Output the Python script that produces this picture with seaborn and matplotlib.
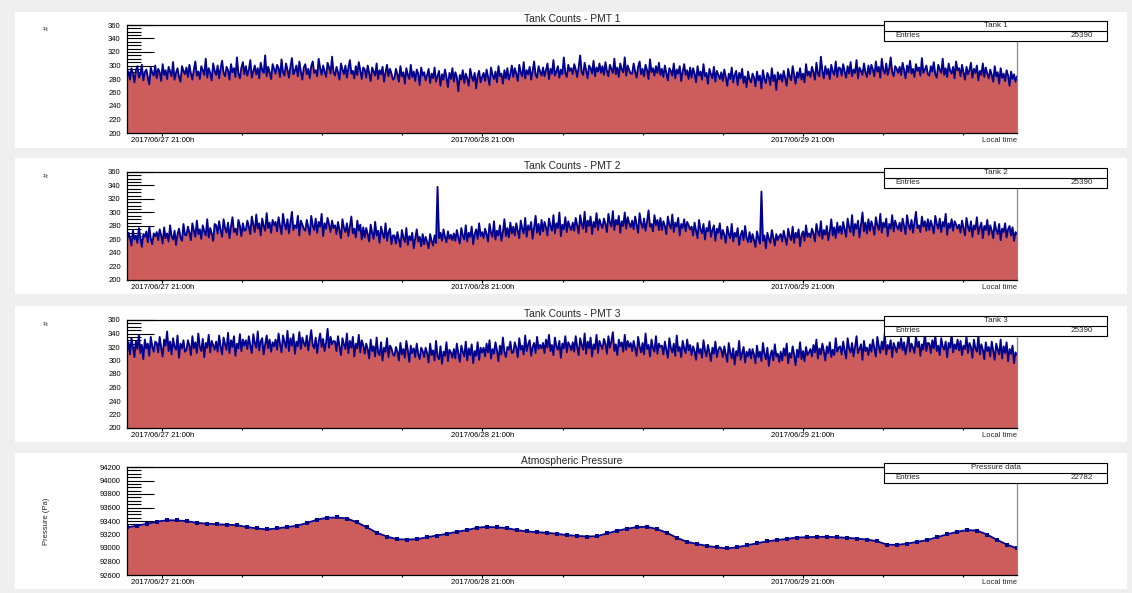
import pandas as pd
import matplotlib
matplotlib.use("Agg")
import matplotlib.pyplot as plt
import matplotlib.dates as mdates
from matplotlib.ticker import MultipleLocator, FixedLocator
from matplotlib.patches import Rectangle
from matplotlib.lines import Line2D
import seaborn as sns

# ---- data -------------------------------------------------------------
time_start = "2017-06-27 18:22"
time_end = "2017-06-30 13:03"

pmt1_counts = [
    284, 291, 279, 296, 288, 275, 293, 299, 282, 287, 301, 278, 290, 294, 283, 272, 297, 289, 285, 300,
    281, 295, 290, 277, 302, 286, 293, 280, 298, 291, 284, 305, 279, 289, 296, 283, 276, 299, 292, 287,
    297, 283, 301, 288, 279, 294, 306, 285, 291, 280, 299, 293, 286, 310, 282, 296, 289, 278, 303, 292,
    286, 300, 281, 295, 307, 289, 284, 298, 293, 279, 302, 290, 296, 283, 312, 288, 281, 297, 305, 287,
    299, 285, 294, 308, 282, 291, 300, 287, 296, 281, 304, 293, 289, 315, 284, 298, 290, 280, 302, 295,
    288, 301, 296, 283, 309, 290, 285, 303, 294, 282, 298, 311, 287, 292, 300, 284, 306, 291, 279, 297,
    302, 287, 295, 281, 299, 306, 289, 293, 284, 310, 296, 286, 300, 291, 283, 304, 297, 288, 313, 290,
    285, 298, 290, 279, 303, 294, 287, 300, 282, 296, 308, 288, 292, 281, 299, 286, 305, 293, 280, 297,
    294, 282, 300, 289, 277, 297, 291, 285, 303, 280, 293, 287, 298, 276, 290, 301, 284, 295, 288, 279,
    281, 295, 287, 276, 299, 284, 290, 273, 296, 286, 280, 301, 283, 291, 277, 294, 288, 271, 297, 285,
    290, 278, 286, 295, 274, 288, 281, 297, 276, 284, 292, 270, 287, 279, 294, 283, 268, 289, 280, 296,
    276, 290, 283, 262, 286, 279, 293, 274, 288, 281, 270, 295, 284, 277, 289, 266, 285, 292, 275, 283,
    289, 277, 294, 283, 271, 297, 286, 280, 291, 275, 299, 284, 288, 273, 293, 281, 296, 279, 287, 300,
    283, 296, 288, 277, 301, 290, 284, 305, 281, 293, 287, 298, 279, 292, 306, 286, 282, 299, 291, 285,
    297, 284, 293, 303, 280, 295, 288, 308, 285, 291, 299, 282, 294, 287, 312, 289, 283, 301, 292, 296,
    287, 302, 294, 283, 298, 315, 290, 286, 304, 293, 281, 300, 296, 288, 307, 284, 297, 291, 303, 289,
    299, 286, 305, 292, 284, 301, 295, 289, 310, 287, 297, 283, 303, 294, 290, 312, 285, 300, 293, 288,
    288, 303, 291, 282, 298, 306, 287, 295, 284, 301, 293, 280, 309, 290, 296, 285, 299, 289, 304, 286,
    295, 283, 300, 289, 278, 296, 292, 285, 303, 281, 294, 288, 299, 277, 291, 302, 286, 293, 280, 297,
    282, 296, 288, 275, 299, 285, 291, 279, 302, 284, 289, 273, 295, 287, 281, 298, 276, 292, 286, 280,
    290, 277, 294, 283, 270, 288, 280, 297, 275, 286, 292, 271, 289, 281, 295, 274, 284, 268, 291, 279,
    275, 288, 282, 269, 291, 278, 285, 266, 293, 280, 274, 289, 283, 271, 296, 277, 286, 264, 290, 279,
    287, 276, 292, 281, 270, 295, 284, 278, 299, 286, 273, 290, 282, 296, 279, 288, 275, 302, 285, 291,
    283, 298, 290, 279, 304, 288, 284, 313, 292, 281, 299, 287, 295, 280, 301, 291, 286, 306, 283, 297,
    296, 285, 302, 291, 282, 299, 288, 305, 284, 294, 289, 308, 281, 297, 292, 286, 303, 290, 283, 300,
    287, 301, 294, 284, 306, 291, 298, 282, 310, 293, 288, 303, 286, 296, 312, 290, 284, 299, 295, 289,
    298, 286, 304, 293, 281, 300, 290, 307, 288, 295, 283, 302, 292, 297, 285, 311, 289, 294, 300, 287,
    285, 299, 291, 305, 287, 282, 301, 294, 289, 310, 286, 296, 283, 303, 292, 288, 298, 281, 306, 293,
    296, 284, 301, 290, 279, 298, 287, 293, 304, 282, 295, 289, 300, 278, 292, 286, 303, 283, 297, 288,
    281, 294, 286, 276, 299, 284, 290, 273, 296, 282, 288, 277, 293, 285, 270, 291, 280, 287, 276, 284,
]

pmt2_counts = [
    258, 270, 263, 251, 274, 260, 266, 255, 277, 262, 249, 268, 264, 272, 256, 279, 261, 253, 269, 265,
    271, 259, 275, 266, 254, 278, 262, 269, 257, 281, 265, 260, 273, 252, 268, 276, 263, 258, 283, 267,
    266, 279, 270, 259, 284, 273, 264, 288, 268, 275, 261, 281, 272, 266, 290, 263, 277, 269, 258, 283,
    281, 269, 287, 274, 264, 290, 277, 270, 285, 262, 279, 293, 271, 276, 267, 289, 280, 265, 284, 273,
    274, 288, 279, 268, 294, 282, 271, 297, 276, 284, 266, 291, 280, 273, 299, 277, 285, 270, 289, 281,
    286, 272, 293, 280, 268, 298, 283, 275, 290, 269, 285, 301, 274, 281, 277, 295, 266, 288, 282, 276,
    273, 289, 278, 267, 295, 281, 274, 291, 270, 286, 279, 298, 265, 284, 276, 292, 282, 271, 288, 277,
    281, 268, 286, 274, 262, 290, 277, 271, 284, 265, 279, 294, 269, 276, 263, 288, 273, 282, 260, 278,
    263, 277, 268, 257, 282, 270, 261, 286, 266, 273, 255, 279, 269, 262, 284, 258, 271, 276, 253, 266,
    266, 254, 271, 260, 249, 274, 263, 256, 277, 252, 265, 259, 270, 247, 262, 275, 257, 264, 250, 268,
    253, 264, 256, 247, 268, 258, 251, 266, 255, 338, 262, 270, 258, 275, 264, 256, 272, 261, 267, 259,
    269, 258, 274, 263, 254, 277, 266, 260, 281, 257, 270, 264, 279, 253, 268, 275, 261, 284, 265, 271,
    262, 276, 268, 257, 283, 270, 264, 287, 260, 273, 266, 281, 258, 271, 290, 265, 277, 263, 285, 269,
    279, 266, 284, 273, 262, 288, 276, 269, 292, 264, 281, 274, 286, 261, 278, 295, 270, 283, 267, 289,
    272, 286, 278, 266, 291, 280, 273, 296, 269, 284, 277, 300, 265, 282, 275, 293, 271, 287, 279, 274,
    285, 273, 292, 281, 269, 296, 283, 276, 301, 271, 288, 280, 294, 268, 286, 278, 299, 274, 290, 282,
    277, 291, 283, 271, 298, 285, 279, 302, 274, 289, 282, 295, 270, 287, 280, 300, 276, 293, 284, 278,
    288, 275, 294, 282, 270, 299, 284, 277, 291, 273, 286, 303, 279, 283, 272, 296, 281, 289, 274, 292,
    274, 287, 280, 268, 294, 282, 276, 297, 271, 285, 279, 292, 266, 283, 277, 290, 272, 286, 281, 275,
    279, 266, 285, 273, 262, 289, 275, 269, 283, 260, 277, 272, 287, 264, 274, 281, 258, 276, 270, 284,
    261, 274, 267, 255, 279, 268, 262, 283, 257, 270, 264, 277, 252, 266, 273, 259, 280, 263, 256, 271,
    256, 268, 259, 249, 272, 262, 254, 331, 258, 266, 247, 270, 261, 255, 274, 263, 251, 268, 259, 265,
    268, 257, 273, 262, 252, 276, 265, 259, 279, 255, 270, 263, 275, 250, 267, 272, 258, 281, 264, 269,
    263, 276, 269, 257, 283, 271, 265, 287, 261, 274, 267, 280, 259, 272, 290, 266, 278, 262, 285, 270,
    280, 268, 286, 275, 264, 291, 278, 271, 296, 266, 283, 276, 288, 263, 281, 300, 272, 285, 269, 290,
    273, 287, 279, 267, 293, 281, 274, 298, 270, 285, 278, 291, 265, 283, 276, 296, 272, 288, 280, 275,
    285, 272, 291, 280, 268, 296, 282, 275, 289, 270, 286, 301, 277, 281, 271, 294, 279, 287, 273, 290,
    274, 288, 280, 269, 295, 283, 276, 291, 271, 286, 279, 298, 267, 284, 277, 290, 273, 287, 282, 276,
    282, 270, 288, 277, 266, 292, 279, 272, 287, 264, 281, 275, 293, 268, 278, 285, 262, 280, 274, 289,
    267, 281, 273, 262, 286, 274, 268, 283, 259, 276, 271, 284, 263, 275, 280, 266, 278, 258, 271, 268,
]

pmt3_counts = [
    314, 327, 309, 333, 320, 305, 329, 317, 338, 311, 323, 302, 331, 318, 325, 307, 335, 321, 313, 328,
    326, 312, 335, 319, 306, 331, 322, 343, 314, 328, 309, 333, 320, 316, 337, 304, 325, 318, 330, 313,
    315, 330, 322, 308, 336, 318, 327, 311, 340, 320, 314, 332, 305, 326, 319, 338, 312, 329, 323, 316,
    328, 313, 337, 321, 309, 334, 324, 316, 341, 311, 330, 320, 336, 307, 325, 318, 339, 314, 331, 322,
    330, 317, 336, 322, 311, 339, 326, 319, 343, 315, 328, 333, 309, 324, 337, 318, 331, 313, 327, 321,
    331, 316, 340, 324, 312, 337, 327, 319, 344, 314, 333, 322, 339, 310, 328, 321, 342, 317, 334, 326,
    321, 337, 315, 330, 345, 323, 318, 334, 311, 328, 340, 320, 332, 314, 326, 347, 319, 335, 324, 329,
    328, 314, 336, 321, 308, 333, 324, 317, 340, 311, 329, 319, 335, 306, 325, 318, 338, 312, 330, 323,
    310, 325, 317, 303, 331, 314, 321, 306, 334, 312, 308, 327, 300, 319, 313, 333, 305, 322, 318, 309,
    307, 320, 313, 300, 326, 309, 317, 304, 329, 315, 298, 322, 311, 318, 305, 325, 310, 302, 319, 314,
    305, 319, 311, 297, 325, 308, 315, 300, 329, 306, 302, 321, 295, 313, 307, 327, 299, 316, 312, 304,
    317, 303, 325, 310, 298, 322, 313, 306, 328, 300, 318, 308, 324, 296, 314, 307, 327, 301, 319, 312,
    319, 306, 325, 312, 330, 303, 317, 310, 327, 315, 299, 322, 309, 334, 313, 305, 320, 316, 328, 311,
    312, 327, 319, 305, 333, 316, 322, 309, 337, 314, 324, 330, 307, 320, 326, 311, 335, 317, 323, 318,
    326, 311, 331, 319, 338, 314, 323, 308, 334, 321, 316, 329, 304, 325, 318, 336, 312, 327, 322, 315,
    327, 313, 336, 320, 308, 333, 323, 316, 340, 310, 328, 318, 334, 306, 324, 317, 338, 311, 329, 322,
    317, 332, 325, 310, 336, 319, 328, 342, 314, 324, 308, 331, 321, 327, 313, 338, 316, 329, 320, 326,
    314, 329, 318, 307, 335, 321, 312, 326, 309, 340, 317, 323, 306, 331, 319, 313, 336, 310, 325, 320,
    322, 309, 328, 316, 304, 333, 319, 312, 325, 307, 337, 314, 320, 305, 329, 318, 311, 331, 315, 323,
    308, 321, 314, 301, 326, 311, 317, 304, 330, 315, 306, 323, 312, 299, 319, 310, 328, 305, 316, 320,
    316, 305, 321, 309, 298, 326, 312, 303, 318, 294, 314, 307, 329, 301, 311, 320, 297, 313, 306, 317,
    303, 317, 309, 296, 322, 305, 313, 299, 326, 311, 302, 319, 292, 308, 315, 300, 324, 306, 310, 298,
    313, 300, 318, 307, 325, 296, 311, 304, 321, 309, 293, 316, 305, 327, 302, 314, 299, 320, 308, 312,
    317, 306, 323, 312, 331, 303, 318, 309, 325, 314, 300, 321, 311, 327, 305, 316, 308, 333, 313, 319,
    321, 309, 328, 315, 303, 333, 318, 312, 326, 306, 320, 336, 311, 317, 324, 301, 329, 314, 319, 308,
    324, 313, 331, 318, 306, 335, 321, 311, 328, 316, 340, 309, 323, 317, 330, 305, 326, 319, 312, 327,
    318, 333, 315, 327, 309, 322, 338, 313, 325, 319, 311, 336, 320, 328, 307, 324, 316, 342, 314, 326,
    325, 311, 330, 318, 337, 314, 322, 308, 333, 321, 316, 328, 305, 326, 319, 339, 312, 324, 317, 331,
    315, 329, 308, 322, 317, 335, 311, 326, 320, 304, 331, 318, 313, 337, 309, 324, 316, 302, 327, 314,
    320, 306, 328, 314, 301, 325, 316, 309, 331, 303, 321, 311, 327, 299, 317, 310, 322, 296, 312, 308,
]

pressure_pa = [
    93305, 93330, 93360, 93390, 93412, 93408, 93398, 93372, 93360, 93352,
    93345, 93338, 93310, 93290, 93275, 93290, 93310, 93330, 93370, 93420,
    93448, 93452, 93437, 93380, 93305, 93225, 93170, 93130, 93125, 93130,
    93160, 93185, 93210, 93240, 93265, 93300, 93314, 93305, 93295, 93265,
    93245, 93235, 93225, 93210, 93191, 93180, 93170, 93175, 93215, 93255,
    93285, 93310, 93314, 93280, 93225, 93150, 93092, 93060, 93030, 93010,
    92994, 93010, 93040, 93070, 93100, 93117, 93135, 93155, 93160, 93165,
    93166, 93160, 93150, 93140, 93125, 93100, 93050, 93045, 93065, 93090,
    93117, 93160, 93201, 93240, 93265, 93258, 93200, 93120, 93050, 92994,
]

panel_titles = ["Tank Counts - PMT 1", "Tank Counts - PMT 2",
                "Tank Counts - PMT 3", "Atmospheric Pressure"]
stat_titles = ["Tank 1", "Tank 2", "Tank 3", "Pressure data"]
stat_entries = [25390, 25390, 25390, 22782]
y_titles = ["#", "#", "#", "Pressure (Pa)"]
count_ticks = [200, 220, 240, 260, 280, 300, 320, 340, 360]
pressure_ticks = [92600, 92800, 93000, 93200, 93400, 93600, 93800, 94000, 94200]

# ---- style ------------------------------------------------------------
FILL = "#cd5c5c"
LINE = "#00008f"
BG = "#efefef"

sns.set_style("ticks")
plt.rcParams["font.family"] = ["Liberation Sans", "DejaVu Sans"]

W, H = 1132, 593
fig = plt.figure(figsize=(W / 100, H / 100), dpi=100, facecolor=BG)


def fx(px):
    return px / W


def fy(py):
    return 1 - py / H


PLOT_L, PLOT_R, PLOT_H = 127, 1017, 108
plot_tops = [25, 172, 320, 467]
panel_spans = [(12, 148), (158, 294), (306, 442), (453, 589)]

for top, bottom in panel_spans:
    fig.add_artist(Rectangle((fx(15), fy(bottom)), fx(1127) - fx(15), (bottom - top) / H,
                             transform=fig.transFigure, facecolor="white",
                             edgecolor="none", zorder=-1))

series = [pmt1_counts, pmt2_counts, pmt3_counts, pressure_pa]

for i, values in enumerate(series):
    top = plot_tops[i]
    ax = fig.add_axes([fx(PLOT_L), fy(top + PLOT_H), fx(PLOT_R) - fx(PLOT_L), PLOT_H / H])
    ax.set_facecolor("white")
    times = pd.date_range(time_start, time_end, periods=len(values))
    is_pressure = i == 3
    ticks = pressure_ticks if is_pressure else count_ticks
    ymin, ymax = ticks[0], ticks[-1]

    ax.fill_between(times, values, ymin, color=FILL, lw=0, zorder=1)
    if is_pressure:
        sns.lineplot(x=times, y=values, ax=ax, color=LINE, linewidth=1.3,
                     marker="s", markersize=2.2, markeredgewidth=0,
                     sort=False, errorbar=None, zorder=2)
    else:
        sns.lineplot(x=times, y=values, ax=ax, color=LINE, linewidth=1.35,
                     sort=False, errorbar=None, zorder=2)

    ax.set_xlim(times[0], times[-1])
    ax.set_ylim(ymin, ymax)

    # time axis
    ax.xaxis.set_major_locator(mdates.HourLocator(byhour=[21]))
    ax.xaxis.set_minor_locator(mdates.HourLocator(byhour=[3, 9, 15]))
    ax.xaxis.set_major_formatter(mdates.DateFormatter("%Y/%m/%d %H:%Mh"))
    ax.tick_params(axis="x", which="major", bottom=True, direction="inout", length=5,
                   width=0.8, labelsize=5.5, pad=0.5, colors="black")
    ax.tick_params(axis="x", which="minor", bottom=True, direction="inout", length=2.5,
                   width=0.8, colors="black")

    # value axis
    ax.yaxis.set_major_locator(FixedLocator(ticks))
    ax.yaxis.set_minor_locator(MultipleLocator(50 if is_pressure else 5))
    ax.tick_params(axis="y", which="major", left=True, direction="in", length=19.5,
                   width=0.8, labelsize=5.5, pad=4.5, colors="black")
    ax.tick_params(axis="y", which="minor", left=True, direction="in", length=10,
                   width=0.8, colors="black")

    for side in ("left", "bottom", "top"):
        ax.spines[side].set_visible(True)
        ax.spines[side].set_color("black")
        ax.spines[side].set_linewidth(0.9)
    ax.spines["right"].set_visible(True)
    ax.spines["right"].set_color("#8a8a8a")
    ax.spines["right"].set_linewidth(0.9)

    ax.set_title(panel_titles[i], fontsize=7.4, pad=2)
    ax.set_xlabel("Local time", fontsize=5.5, loc="right")
    ax.xaxis.set_label_coords(1.0, -0.066)
    ax.xaxis.label.set_va("center")

    ax.set_ylabel(y_titles[i], fontsize=5.5, rotation=90)
    if is_pressure:
        ax.yaxis.set_label_coords(-0.0899, 0.5)
    else:
        ax.yaxis.set_label_coords(-0.0899, 0.97)
    ax.yaxis.label.set_va("center")
    ax.yaxis.label.set_ha("center")

    # statistics box
    b_top, b_bot = top - 4.3, top + 15.7
    fig.add_artist(Rectangle((fx(884), fy(b_bot)), fx(1107) - fx(884), (b_bot - b_top) / H,
                             transform=fig.transFigure, facecolor="white",
                             edgecolor="black", lw=0.8, zorder=5))
    fig.add_artist(Line2D([fx(884), fx(1107)], [fy(top + 5.7)] * 2,
                          transform=fig.transFigure, color="black", lw=0.8, zorder=6))
    fig.text(fx(995.5), fy(top + 0.7), stat_titles[i], ha="center", va="center",
             fontsize=5.8, zorder=7)
    fig.text(fx(895), fy(top + 10.7), "Entries", ha="left", va="center",
             fontsize=5.8, zorder=7)
    fig.text(fx(1093), fy(top + 10.7), str(stat_entries[i]), ha="right", va="center",
             fontsize=5.8, zorder=7)

fig.savefig("out.png", dpi=100, facecolor=BG)
